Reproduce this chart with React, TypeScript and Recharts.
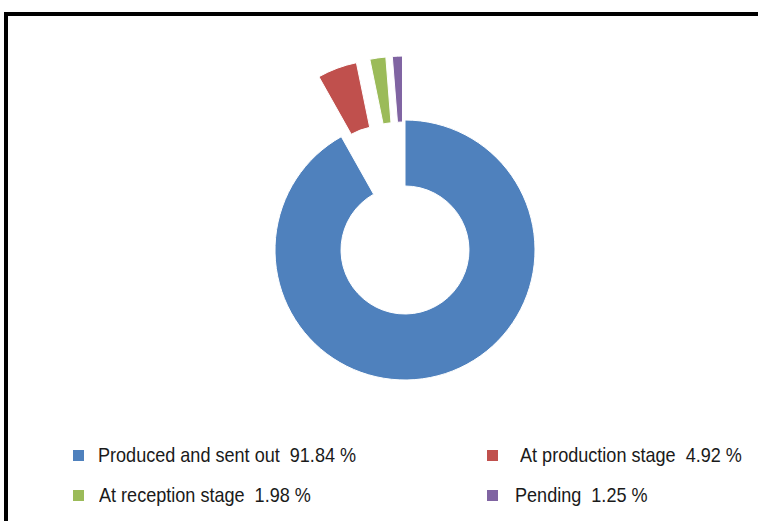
import React from "react";
import { PieChart, Pie, Cell, Sector, Legend } from "recharts";

// Order status shares (%)
const categories = ["Produced and sent out", "At production stage", "At reception stage", "Pending"];
const shares = [91.84, 4.92, 1.98, 1.25];

const colors = ["#4f81bd", "#c0504d", "#9bbb59", "#8064a2"];
const EXPLODE = 64;

const data = categories.map((name, i) => ({ name, value: shares[i] }));

const RAD = Math.PI / 180;

const ExplodedSector = (props: any) => {
    const { cx, cy, midAngle } = props;
    const name = props.payload?.name ?? props.name;
    const off = name === categories[0] ? 0 : EXPLODE;
    return (
        <Sector
            cx={cx + off * Math.cos(-midAngle * RAD)}
            cy={cy + off * Math.sin(-midAngle * RAD)}
            innerRadius={props.innerRadius}
            outerRadius={props.outerRadius}
            startAngle={props.startAngle}
            endAngle={props.endAngle}
            fill={props.fill}
            stroke="#fff"
            strokeWidth={1}
        />
    );
};

// legend layout (2 columns x 2 rows)
const colX = [73, 487];
const textLeft = [25, 33, 26, 28];
const rowY = [455, 495];
const LEGEND_TOP = 430;

const renderLegend = (props: any) => {
    const payload = props.payload || [];
    return (
        <div style={{ position: "relative", width: 758, height: 90 }}>
            {payload.map((entry: any) => {
                const i = categories.indexOf(entry.value);
                const col = i % 2;
                const row = Math.floor(i / 2);
                return (
                    <div key={entry.value} style={{ position: "absolute", left: colX[col], top: rowY[row] - LEGEND_TOP - 12, height: 24, display: "flex", alignItems: "center" }}>
                        <span style={{ width: 11, height: 11, background: entry.color, display: "inline-block" }} />
                        <span
                            style={{
                                position: "absolute",
                                left: textLeft[i],
                                top: 0,
                                lineHeight: "24px",
                                whiteSpace: "pre",
                                fontFamily: "'Liberation Sans', Arial, sans-serif",
                                fontSize: 21,
                                color: "#1a1a1a",
                                transform: "scaleX(0.86)",
                                transformOrigin: "left center",
                            }}
                        >
                            {`${entry.value}  ${shares[i].toFixed(2)} %`}
                        </span>
                    </div>
                );
            })}
        </div>
    );
};

export default function App() {
    return (
        <div style={{ position: "absolute", left: 0, top: 0, width: 758, height: 521, overflow: "hidden", background: "#fff" }}>
            <div style={{ position: "absolute", left: 4, top: 12, width: 800, height: 600, border: "4px solid #000" }} />
            <div style={{ position: "absolute", left: 0, top: 0 }}>
                <PieChart width={758} height={521} margin={{ top: 0, right: 0, bottom: 0, left: 0 }}>
                    <Pie
                        data={data}
                        dataKey="value"
                        nameKey="name"
                        cx={405}
                        cy={250}
                        innerRadius={64}
                        outerRadius={130}
                        startAngle={90}
                        endAngle={-270}
                        shape={ExplodedSector}
                        isAnimationActive={false}
                    >
                        {data.map((d, i) => (
                            <Cell key={d.name} fill={colors[i]} />
                        ))}
                    </Pie>
                    <Legend content={renderLegend} wrapperStyle={{ position: "absolute", left: 0, top: LEGEND_TOP, width: 758 }} />
                </PieChart>
            </div>
        </div>
    );
}
